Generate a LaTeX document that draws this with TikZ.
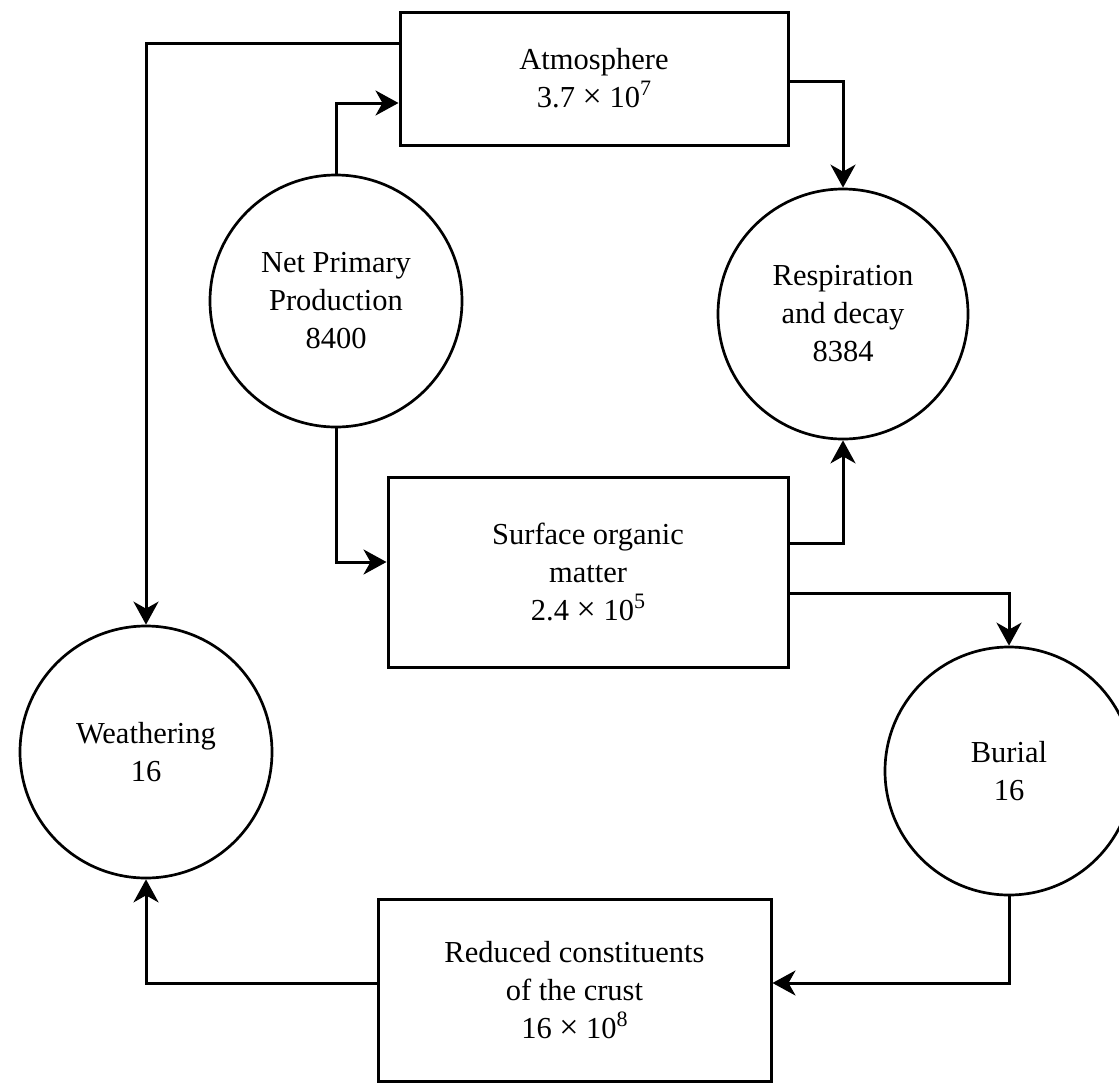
\documentclass[tikz,border=0pt]{standalone}
\usepackage{fontspec}
\setmainfont{Liberation Serif}
\usetikzlibrary{arrows.meta}
\newcommand{\myexp}[1]{\raisebox{0.4em}{\fontsize{22}{22}\selectfont #1}}
\newcommand{\mytimes}{ {\fontsize{34}{34}\selectfont ×} }
\begin{document}
\begin{tikzpicture}[x=1pt,y=-1pt,
  every node/.style={align=center,font=\fontsize{30.5}{38}\selectfont,inner sep=0pt},
  box/.style={draw,line width=3pt,rectangle},
  proc/.style={draw,line width=2.7pt,circle},
  arr/.style={line width=3pt,-{Stealth[length=23pt,width=25pt,inset=7pt]}}]
\useasboundingbox (0,0) rectangle (1119,1082);
\clip (0,0) rectangle (1119,1082);
\node[box,minimum width=388pt,minimum height=133pt] (atm) at (594,78.5) {Atmosphere\\3.7\mytimes10\myexp{7}};
\node[proc,minimum size=252pt] (npp) at (336,301) {Net Primary\\Production\\8400};
\node[proc,minimum size=250pt] (resp) at (843,314) {Respiration\\and decay\\8384};
\node[box,minimum width=400pt,minimum height=190pt] (som) at (588,572) {Surface organic\\matter\\2.4\mytimes10\myexp{5}};
\node[proc,minimum size=252pt] (weath) at (146,752) {Weathering\\16};
\node[proc,minimum size=248pt] (burial) at (1009,771) {Burial\\16};
\node[box,minimum width=393pt,minimum height=182pt] (red) at (574.5,990) {Reduced constituents\\of the crust\\16\mytimes10\myexp{8}};
\draw[arr] ([yshift=35.5pt]atm.west) -| (weath.north);
\draw[arr] (npp.north) |- ([yshift=-24.5pt]atm.west);
\draw[arr] ([yshift=-2.5pt]atm.east) -| (resp.north);
\draw[arr] (npp.south) |- ([yshift=10pt]som.west);
\draw[arr] ([yshift=29pt]som.east) -| (resp.south);
\draw[arr] ([yshift=-21pt]som.east) -| (burial.north);
\draw[arr] (burial.south) |- ([yshift=7pt]red.east);
\draw[arr] ([yshift=7pt]red.west) -| (weath.south);
\end{tikzpicture}
\end{document}
